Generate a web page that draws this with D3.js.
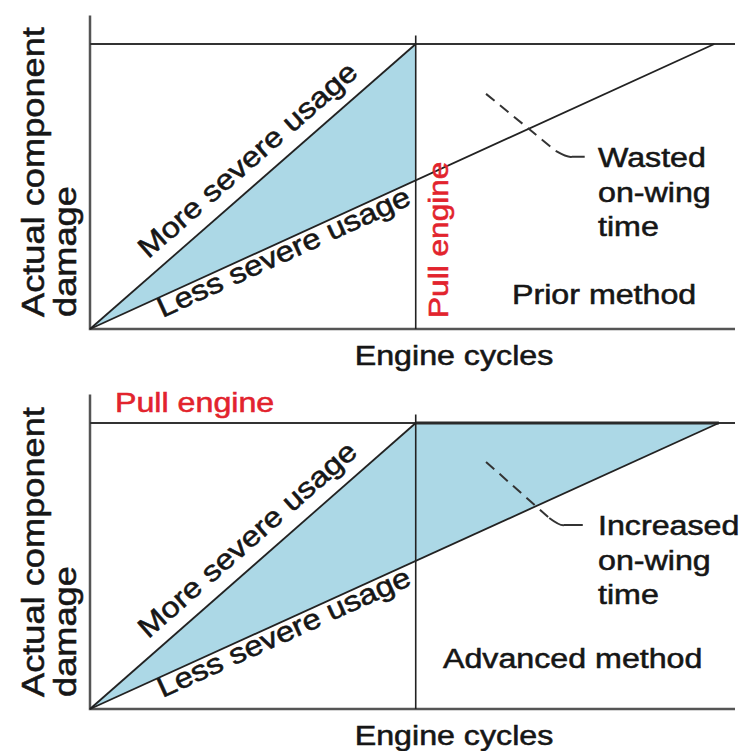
<!DOCTYPE html>
<html><head><meta charset="utf-8">
<script src="https://cdn.jsdelivr.net/npm/d3@7"></script>
<style>
html,body{margin:0;padding:0;background:#fff;}
svg{display:block;font-family:"Liberation Sans",Arial,Helvetica,sans-serif;}
</style></head>
<body><svg id="c" width="743" height="751"></svg>
<script>
// ---- data (engine cycles 0..100, damage 0..100 where 100 = damage limit) ----
const panels = ["Prior method", "Advanced method"];
const pullCycle = [50.5, 50.5];             // pull point in engine cycles
const moreSevere = [[0, 0], [50.5, 100]];     // damage line, severe usage
const lessSevereTop = [[0, 0], [96.8, 100]];  // damage line, mild usage (prior)
const lessSevereBot = [[0, 0], [97.5, 100]];  // damage line, mild usage (advanced)
const damageLimit = 100;
const axisMax = 110;
const leaderTop = [[61.4, 82.5], [72.2, 62.5], [74.1, 60.4], [76.7, 60.4]];
const leaderBot = [[61.4, 86.4], [71.2, 66.8], [72.9, 64.3], [76.4, 64.3]];
const calloutTop = ["Wasted", "on-wing", "time"];
const calloutBot = ["Increased", "on-wing", "time"];
const xLabel = "Engine cycles";
const yLabel = ["Actual component", "damage"];
const pullLabel = "Pull engine";
const moreLabel = "More severe usage";
const lessLabel = "Less severe usage";

const svg = d3.select("#c");
const x = d3.scaleLinear().domain([0, 100]).range([90, 735]);
const FILL = "#acd8e6", INK = "#161616", RED = "#e2232d", SX = 1.15;

function txt(g, s, px, py, opts = {}) {
  const size = opts.size || 28, rot = opts.rot || 0;
  const c = opts.color || INK;
  return g.append("text")
    .attr("transform", `translate(${px},${py}) rotate(${rot}) scale(${SX},1)`)
    .attr("text-anchor", opts.anchor || "start")
    .attr("font-size", size)
    .attr("fill", c)
    .attr("stroke", c).attr("stroke-width", 0.55)
    .text(s);
}

function panel(idx, y0, yBottom, lessSevere, leader, callout) {
  const y = d3.scaleLinear().domain([0, 100]).range([yBottom, y0]);
  const g = svg.append("g");
  const line = d3.line().x(d => x(d[0])).y(d => y(d[1]));
  const pc = pullCycle[idx];
  const lessAtPull = lessSevere[1][1] * pc / lessSevere[1][0];

  // filled region
  const poly = idx === 0
    ? [moreSevere[0], moreSevere[1], [pc, lessAtPull]]
    : [moreSevere[0], moreSevere[1], lessSevere[1]];
  g.append("path").attr("d", line(poly) + "Z").attr("fill", FILL);

  // axes
  g.append("path").attr("d", line([[0, axisMax], [0, 0], [100, 0]]))
    .attr("fill", "none").attr("stroke", "#555").attr("stroke-width", 2.5);
  // damage limit line
  g.append("path").attr("d", line([[0, damageLimit], [100, damageLimit]]))
    .attr("stroke", "#333").attr("stroke-width", 2);
  if (idx === 1) g.append("path").attr("d", line([[pc, damageLimit], lessSevere[1]]))
    .attr("stroke", "#2a2a2a").attr("stroke-width", 3.2);
  // pull line
  g.append("path").attr("d", line([[pc, 103], [pc, 0]]))
    .attr("stroke", "#222").attr("stroke-width", 1.6);
  // usage lines
  g.append("path").attr("d", line(moreSevere)).attr("stroke", "#222").attr("stroke-width", 1.8).attr("fill", "none");
  g.append("path").attr("d", line(lessSevere)).attr("stroke", "#222").attr("stroke-width", 1.8).attr("fill", "none");

  // leader
  g.append("path").attr("d", line(leader.slice(0, 2)))
    .attr("stroke", "#333").attr("stroke-width", 2).attr("stroke-dasharray", "11,7").attr("fill", "none");
  const lp = leader.map(d => [x(d[0]), y(d[1])]);
  g.append("path").attr("d", `M${lp[1][0]},${lp[1][1]}Q${lp[2][0]},${lp[2][1] + 1} ${lp[2][0] + 4},${lp[2][1]}L${lp[3][0]},${lp[3][1]}`)
    .attr("stroke", "#333").attr("stroke-width", 2).attr("fill", "none");

  // diagonal labels: t = distance along segment, off = perpendicular offset (+ above)
  function along(seg, t, off, s) {
    const p0 = [x(seg[0][0]), y(seg[0][1])], p1 = [x(seg[1][0]), y(seg[1][1])];
    const dx = p1[0] - p0[0], dy = p1[1] - p0[1], L = Math.hypot(dx, dy);
    const ux = dx / L, uy = dy / L;
    const nx = uy, ny = -ux; // normal pointing up-left
    const ang = Math.atan2(dy, dx) * 180 / Math.PI;
    txt(g, s, p0[0] + ux * t + nx * off, p0[1] + uy * t + ny * off, { rot: ang, anchor: "middle", size: 28.5 });
  }
  along(moreSevere, 230, 14, moreLabel);
  along(lessSevere, 208, -20, lessLabel);

  // callout
  callout.forEach((s, i) => txt(g, s, 598, y0 + 123 + i * 34.5 - (idx ? 11 : 0)));
  txt(g, panels[idx], idx ? 443 : 512, y0 + 260 - (idx ? 15 : 0));

  // axis labels
  txt(g, xLabel, 454, yBottom + 36, { anchor: "middle" });
  txt(g, yLabel[0], 44, yBottom - 12, { rot: -90, size: 31.5 });
  txt(g, yLabel[1], 76, yBottom - 12, { rot: -90, size: 31.5 });
  return y;
}

panel(0, 44, 329, lessSevereTop, leaderTop, calloutTop);
panel(1, 423, 709, lessSevereBot, leaderBot, calloutBot);

// pull engine labels
txt(svg, pullLabel, 448, 318, { rot: -90, color: RED, size: 27.5 });
txt(svg, pullLabel, 115, 412, { color: RED, size: 28 });
</script></body></html>
